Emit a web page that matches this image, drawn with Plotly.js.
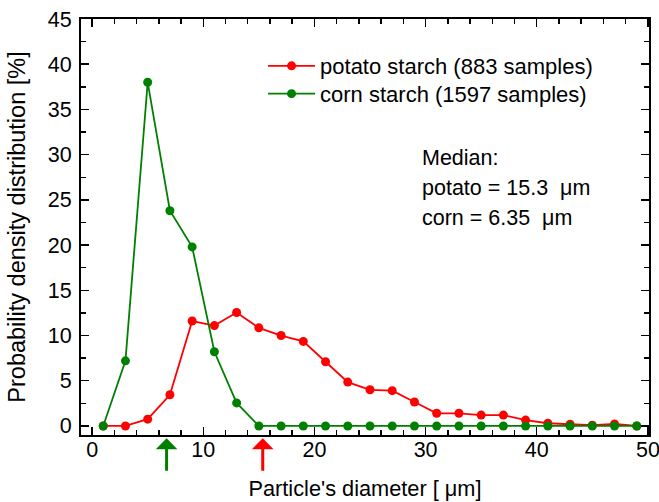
<!DOCTYPE html>
<html>
<head>
<meta charset="utf-8">
<script src="https://cdn.plot.ly/plotly-3.0.1.min.js"></script>
<style>html,body{margin:0;padding:0;background:#fff;} #chart{width:659px;height:502px;}</style>
</head>
<body>
<div id="chart"></div>
<script>
// Particle diameter bins (µm)
const diameters = [1,3,5,7,9,11,13,15,17,19,21,23,25,27,29,31,33,35,37,39,41,43,45,47,49,51];
// Probability density (%)
const potatoValues = [0,0,0.75,3.45,11.6,11.1,12.55,10.85,10.0,9.35,7.1,4.85,4.0,3.9,2.65,1.4,1.4,1.2,1.2,0.65,0.3,0.2,0.08,0.22,0,0];
const cornValues   = [0,7.2,38.0,23.8,19.8,8.2,2.55,0,0,0,0,0,0,0,0,0,0,0,0,0,0,0,0,0,0,0];
const seriesNames = ['potato starch (883 samples)','corn starch (1597 samples)'];
const medians = {potato: 15.35, corn: 6.7};
const medianLines = ['Median:','potato = 15.3  \u03bcm','corn = 6.35  \u03bcm'];
const xTitle = "Particle's diameter [ \u03bcm]";
const yTitle = 'Probability density distribution [%]';

const FONT = 'Arial, "Liberation Sans", sans-serif';

const traces = [
  {x: diameters, y: potatoValues, name: seriesNames[0], mode: 'lines+markers', type: 'scatter', legend: 'legend',
   line: {color: '#ff0000', width: 1.8}, marker: {color: '#ff0000', size: 9}, cliponaxis: true},
  {x: diameters, y: cornValues, name: seriesNames[1], mode: 'lines+markers', type: 'scatter', legend: 'legend2',
   line: {color: '#008000', width: 1.8}, marker: {color: '#008000', size: 9}, cliponaxis: true}
];

const axisCommon = {
  showgrid: false, zeroline: false, showline: true, linecolor: '#000', linewidth: 2,
  mirror: 'allticks', ticks: 'inside', ticklen: 8, tickwidth: 1.5, tickcolor: '#000',
  tickfont: {family: FONT, size: 21.5, color: '#000'}, ticklabeloverflow: 'allow'
};

const legendCommon = {xanchor: 'left', yanchor: 'middle', bgcolor: 'rgba(0,0,0,0)', itemwidth: 47,
  font: {family: FONT, size: 22, color: '#000'}};

const medianY = [0.666, 0.594, 0.522];

const layout = {
  width: 659, height: 502,
  margin: {l: 81, r: 10, t: 19, b: 67},
  paper_bgcolor: '#fff', plot_bgcolor: '#fff',
  font: {family: FONT, size: 21.5, color: '#000'},
  showlegend: true,
  legend: Object.assign({}, legendCommon, {x: 0.3205, y: 0.887}),
  legend2: Object.assign({}, legendCommon, {x: 0.3205, y: 0.820}),
  xaxis: Object.assign({}, axisCommon, {
    range: [-1, 50.1], dtick: 10, tick0: 0,
    minor: {dtick: 2, tick0: 0, ticks: 'inside', ticklen: 5, tickwidth: 1.5, tickcolor: '#000'},
    title: {text: xTitle, font: {family: FONT, size: 21.75, color: '#000'}, standoff: 20},
    ticklabelstandoff: -6
  }),
  yaxis: Object.assign({}, axisCommon, {
    range: [-1, 45], dtick: 5, tick0: 0,
    minor: {dtick: 2.5, tick0: 0, ticks: 'inside', ticklen: 5, tickwidth: 1.5, tickcolor: '#000'},
    title: {text: yTitle, font: {family: FONT, size: 23.5, color: '#000'}, standoff: 16},
    ticklabelstandoff: 3
  }),
  annotations: medianLines.map((t, i) => ({
      xref: 'paper', yref: 'paper', x: 0.596, y: medianY[i], xanchor: 'left', yanchor: 'middle', align: 'left',
      showarrow: false, text: t, font: {family: FONT, size: 21.5, color: '#000'}})).concat([
    {xref: 'x', yref: 'paper', x: medians.corn, y: -0.008, ax: 0, ay: 34, text: '', showarrow: true,
     arrowhead: 1, arrowsize: 1.2, arrowwidth: 3, arrowcolor: '#008000', standoff: 0},
    {xref: 'x', yref: 'paper', x: medians.potato, y: -0.008, ax: 0, ay: 34, text: '', showarrow: true,
     arrowhead: 1, arrowsize: 1.2, arrowwidth: 3, arrowcolor: '#ff0000', standoff: 0}
  ])
};

Plotly.newPlot('chart', traces, layout, {displayModeBar: false, staticPlot: true});
</script>
</body>
</html>
